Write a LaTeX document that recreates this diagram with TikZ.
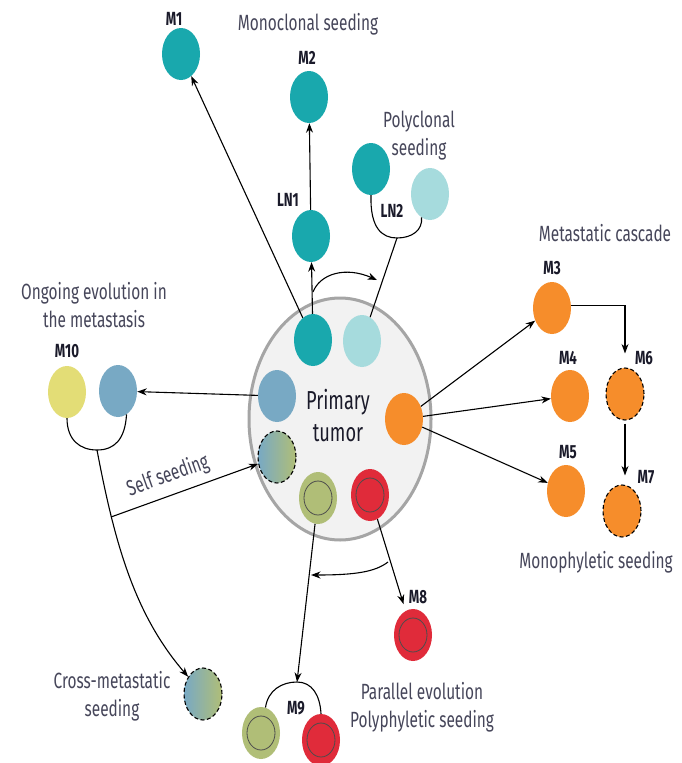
\documentclass[tikz,border=0pt]{standalone}
\usepackage{fontspec}
\setmainfont{Fira Sans}[FakeStretch=0.7]
\usetikzlibrary{shapes.geometric,arrows.meta}
\definecolor{teal}{HTML}{19A8AD}
\definecolor{lteal}{HTML}{A6DBDD}
\definecolor{blueC}{HTML}{78A9C4}
\definecolor{yellowC}{HTML}{E3DD76}
\definecolor{orangeC}{HTML}{F68D2B}
\definecolor{greenC}{HTML}{B0BE77}
\definecolor{redC}{HTML}{E02B3A}
\definecolor{tgray}{HTML}{A5A5A5}
\definecolor{tfill}{HTML}{F2F2F2}
\definecolor{desc}{HTML}{46465A}
\definecolor{lab}{HTML}{1A1A2A}
\begin{document}
\begin{tikzpicture}[x=1pt,y=-1pt,
  cell/.style={ellipse, minimum width=38pt, minimum height=52pt, inner sep=0pt, draw=none},
  dcell/.style={cell, draw=black, dash pattern=on 4pt off 2.5pt, line width=1.1pt},
  ringed/.style={cell, path picture={\draw[black!70, line width=0.8pt] (path picture bounding box.center) ellipse (14pt and 17pt);}},
  lbl/.style={inner sep=0pt, text=lab, font=\fontsize{19}{22}\selectfont\bfseries},
  dsc/.style={inner sep=0pt, text=desc, align=center, font=\fontsize{22}{28}\selectfont},
  arr/.style={-{Stealth[length=9.5pt,width=7pt]}, line width=1.1pt},
  ln/.style={line width=1.1pt}]
\fill[white] (0,0) rectangle (681,763);
\useasboundingbox (0,0) rectangle (681,763);

% primary tumor
\node[ellipse, minimum width=182pt, minimum height=242pt, draw=tgray, line width=3pt, fill=tfill] (PT) at (340,419) {};
\node[inner sep=0pt, text=lab, align=center, font=\fontsize{26}{32}\selectfont] (tPrim) at (338,416) {Primary\\tumor};

% cells in tumor
\node[cell, fill=teal] (T1) at (313,340) {};
\node[cell, fill=lteal] (T2) at (362,341) {};
\node[cell, fill=blueC] (TB) at (277,396) {};
\node[dcell, left color=blueC, right color=greenC] (TG) at (277,457) {};
\node[cell, fill=orangeC] (TO) at (404,419) {};
\node[ringed, fill=greenC] (TGr) at (318,498) {};
\node[ringed, fill=redC] (TR) at (370,495) {};

% top metastases
\node[cell, fill=teal] (M1) at (181,54) {};
\node[cell, fill=teal] (M2) at (309,97) {};
\node[cell, fill=teal] (LN1) at (311,236) {};
\node[cell, fill=teal] (LN2a) at (371,169) {};
\node[cell, fill=lteal] (LN2b) at (430,194) {};
\node[lbl] (lM1) at (174,19) {M1};
\node[lbl] (lM2) at (307,58) {M2};
\node[lbl] (lLN1) at (288,200) {LN1};
\node[lbl] (lLN2) at (392,211) {LN2};
\node[dsc] (tMono) at (308,24) {Monoclonal seeding};
\node[dsc] (tPoly) at (419,136) {Polyclonal\\seeding};

% orange
\node[cell, fill=orangeC] (M3) at (552,308) {};
\node[cell, fill=orangeC] (M4) at (570,396) {};
\node[cell, fill=orangeC] (M5) at (566,491) {};
\node[dcell, fill=orangeC] (M6) at (625,394) {};
\node[dcell, fill=orangeC] (M7) at (622,511) {};
\node[lbl] (lM3) at (552,268) {M3};
\node[lbl] (lM4) at (568,358) {M4};
\node[lbl] (lM5) at (568,452) {M5};
\node[lbl] (lM6) at (644,358) {M6};
\node[lbl] (lM7) at (646,477) {M7};
\node[dsc] (tCasc) at (605,233) {Metastatic cascade};
\node[dsc] (tMonoph) at (596,562) {Monophyletic seeding};

% left
\node[cell, fill=yellowC] (M10a) at (67,392) {};
\node[cell, fill=blueC] (M10b) at (118,391) {};
\node[lbl] (lM10) at (67,351) {M10};
\node[dsc] (tOngo) at (94,305) {Ongoing evolution in\\the metastasis};
\node[dcell, left color=blueC, right color=greenC] (CM) at (203,694) {};
\node[dsc] (tCross) at (112,696) {Cross-metastatic\\seeding};

% bottom
\node[ringed, fill=redC] (M8) at (413,635) {};
\node[lbl] (lM8) at (418,597) {M8};
\node[ringed, fill=greenC] (M9g) at (261,733) {};
\node[ringed, fill=redC] (M9r) at (321,740) {};
\node[lbl] (lM9) at (296,708) {M9};
\node[dsc] (tPar) at (422,707) {Parallel evolution\\Polyphyletic seeding};

% coordinates
\coordinate (lnj) at (397,238);
\coordinate (c1) at (313,292);
\coordinate (c2) at (377,280);
\coordinate (j10) at (97,450);
\coordinate (ss) at (111,517);
\coordinate (j9) at (297,682);
\coordinate (c3) at (388,562);
\coordinate (c4) at (311,575);

% connectors top
\draw[arr] (T1) -- (M1);
\draw[arr] (T1) -- (LN1);
\draw[arr] (LN1) -- (M2);
\draw[ln] (LN2a.south) .. controls (370,228) and (382,238) .. (lnj) .. controls (412,238) and (423,230) .. (LN2b.250);
\draw[ln] (lnj) -- (T2);
\draw[arr] (c1) .. controls (320,274) and (345,266) .. (c2);

% orange connectors
\draw[arr] (TO) -- (M3);
\draw[arr] (TO) -- (M4);
\draw[arr] (TO) -- (M5);
\draw[arr, shorten >=14pt] (M3.8) -| (M6.north);
\draw[arr, shorten <=3pt, shorten >=9pt] (M6.south) -- (M6.south |- M7.north);

% left connectors
\draw[arr] (TB) -- (M10b);
\draw[ln] (M10a.south) .. controls (67,440) and (80,450) .. (j10) .. controls (114,450) and (125,440) .. (M10b.290);
\draw[arr] (j10) .. controls (115,545) and (135,615) .. (CM);
\draw[arr] (ss) -- (TG);
\node[inner sep=0pt, text=desc, font=\fontsize{22}{28}\selectfont, rotate=19.5] (tSelf) at (168,476) {Self seeding};

% bottom connectors
\draw[arr] (TGr) -- (j9);
\draw[ln] (M9g.80) .. controls (268,690) and (282,682) .. (j9) .. controls (312,682) and (320,695) .. (M9r.north);
\draw[arr, shorten >=7pt] (TR) -- (M8);
\draw[arr] (c3) .. controls (375,572) and (355,575) .. (c4);
\end{tikzpicture}
\end{document}
